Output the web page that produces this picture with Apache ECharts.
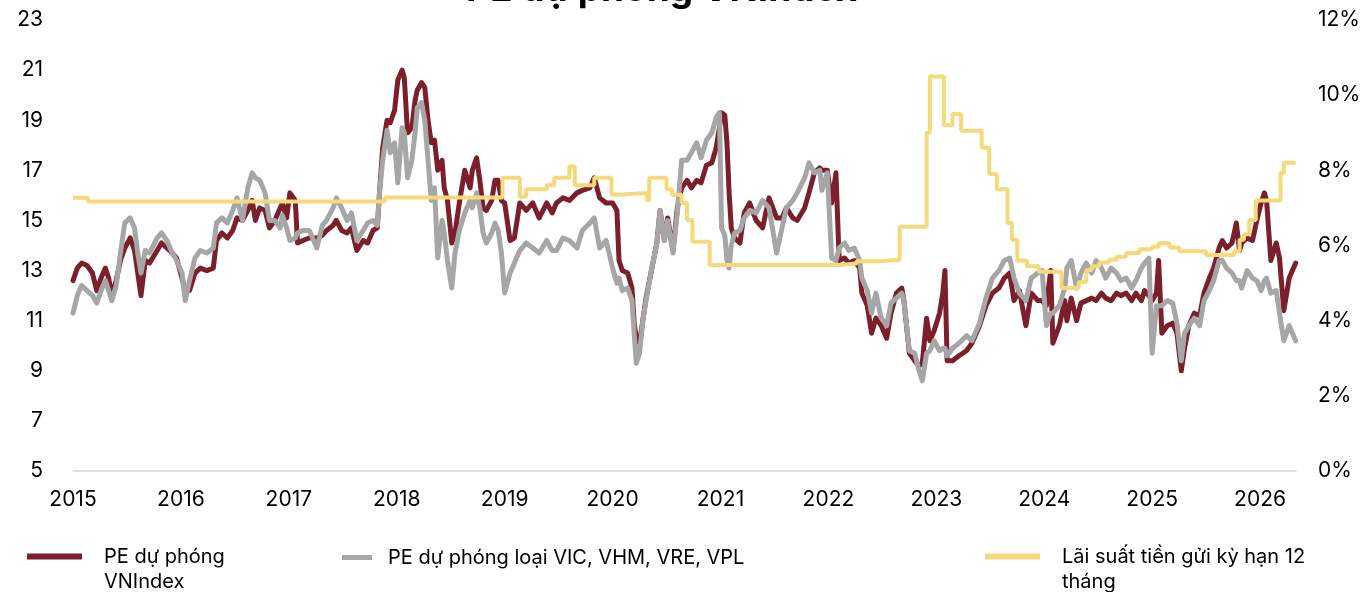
<!DOCTYPE html>
<html>
<head>
<meta charset="utf-8">
<title>PE dự phóng VNIndex</title>
<script src="https://cdn.jsdelivr.net/npm/echarts@6/dist/echarts.min.js"></script>
<style>
  html, body { margin: 0; padding: 0; background: #fff; }
  #chart { width: 1365px; height: 592px; }
</style>
</head>
<body>
<div id="chart"></div>
<script>
// ngày quan sát (năm thập phân), dùng chung cho 2 đường PE
const peDates = [
  2015.00, 2015.04, 2015.08, 2015.13, 2015.18, 2015.22, 2015.26, 2015.30, 2015.33, 2015.36, 2015.40, 2015.44, 2015.48, 2015.53, 2015.57, 2015.60, 2015.63, 2015.67, 2015.71, 2015.78, 2015.82, 2015.87, 2015.92, 2015.96,
  2016.01, 2016.04, 2016.08, 2016.13, 2016.18, 2016.24, 2016.30, 2016.33, 2016.38, 2016.43, 2016.48, 2016.52, 2016.57, 2016.62, 2016.66, 2016.69, 2016.73, 2016.78, 2016.82, 2016.87, 2016.92, 2016.94, 2016.98,
  2017.01, 2017.06, 2017.08, 2017.13, 2017.19, 2017.26, 2017.31, 2017.35, 2017.41, 2017.44, 2017.49, 2017.54, 2017.58, 2017.63, 2017.69, 2017.73, 2017.78, 2017.82, 2017.84, 2017.87, 2017.91, 2017.94, 2017.98,
  2018.01, 2018.05, 2018.07, 2018.10, 2018.14, 2018.17, 2018.19, 2018.23, 2018.26, 2018.29, 2018.32, 2018.35, 2018.38, 2018.42, 2018.44, 2018.47, 2018.51, 2018.54, 2018.58, 2018.63, 2018.68, 2018.70, 2018.74, 2018.77, 2018.80, 2018.83, 2018.88, 2018.91, 2018.94, 2018.97,
  2019.00, 2019.05, 2019.09, 2019.14, 2019.20, 2019.26, 2019.32, 2019.39, 2019.44, 2019.48, 2019.54, 2019.60, 2019.67, 2019.72, 2019.79, 2019.83, 2019.88, 2019.94,
  2020.00, 2020.04, 2020.06, 2020.09, 2020.14, 2020.18, 2020.20, 2020.22, 2020.25, 2020.28, 2020.31, 2020.36, 2020.41, 2020.44, 2020.48, 2020.51, 2020.56, 2020.60, 2020.64, 2020.69, 2020.73, 2020.78, 2020.82, 2020.87, 2020.92, 2020.96, 2020.99,
  2021.01, 2021.04, 2021.06, 2021.08, 2021.10, 2021.13, 2021.18, 2021.22, 2021.27, 2021.33, 2021.39, 2021.45, 2021.52, 2021.57, 2021.61, 2021.67, 2021.71, 2021.78, 2021.82, 2021.87, 2021.92, 2021.94, 2021.99,
  2022.03, 2022.07, 2022.10, 2022.15, 2022.19, 2022.24, 2022.29, 2022.31, 2022.36, 2022.40, 2022.44, 2022.49, 2022.54, 2022.58, 2022.63, 2022.68, 2022.70, 2022.75, 2022.80, 2022.84, 2022.87, 2022.91, 2022.94, 2022.98,
  2023.03, 2023.06, 2023.08, 2023.10, 2023.15, 2023.21, 2023.28, 2023.33, 2023.40, 2023.46, 2023.52, 2023.58, 2023.63, 2023.68, 2023.72, 2023.77, 2023.83, 2023.88, 2023.94, 2023.98,
  2024.02, 2024.06, 2024.08, 2024.14, 2024.19, 2024.21, 2024.25, 2024.30, 2024.34, 2024.39, 2024.44, 2024.48, 2024.53, 2024.57, 2024.62, 2024.67, 2024.71, 2024.76, 2024.81, 2024.85, 2024.90, 2024.93, 2024.97,
  2025.00, 2025.04, 2025.06, 2025.09, 2025.14, 2025.19, 2025.23, 2025.27, 2025.30, 2025.34, 2025.39, 2025.44, 2025.48, 2025.53, 2025.57, 2025.62, 2025.65, 2025.69, 2025.74, 2025.78, 2025.81, 2025.83, 2025.88, 2025.93, 2025.97,
  2026.01, 2026.04, 2026.06, 2026.10, 2026.15, 2026.18, 2026.22, 2026.27, 2026.33
];

// PE dự phóng VNIndex
const peVnindex = [
  12.6, 13.1, 13.3, 13.2, 12.9, 12.2, 12.7, 13.1, 12.7, 12.0, 12.6, 13.4, 13.9, 14.3, 13.8, 12.9, 12.0, 13.4, 13.3, 13.8, 14.1, 13.9, 13.7, 13.5,
  12.7, 12.2, 12.2, 12.9, 13.1, 13.0, 13.1, 14.2, 14.5, 14.3, 14.6, 15.1, 15.0, 15.4, 15.8, 15.0, 15.5, 15.4, 14.7, 15.0, 15.5, 15.7, 15.1,
  16.1, 15.8, 14.1, 14.2, 14.3, 14.3, 14.4, 14.6, 14.8, 15.0, 14.6, 14.5, 14.7, 13.8, 14.2, 14.1, 14.6, 14.7, 16.1, 17.9, 19.0, 18.9, 19.4,
  20.6, 21.0, 20.7, 18.5, 18.7, 19.8, 20.2, 20.5, 20.3, 19.0, 18.1, 18.2, 17.0, 17.4, 16.3, 15.8, 14.1, 14.5, 15.7, 17.0, 16.3, 17.0, 17.5, 16.6, 15.5, 15.4, 15.8, 16.6, 16.6, 15.8,
  15.7, 14.2, 14.3, 15.7, 15.4, 15.7, 15.1, 15.7, 15.3, 15.7, 15.9, 15.8, 16.1, 16.2, 16.3, 16.7, 15.9, 15.7,
  15.7, 15.4, 13.4, 13.0, 12.9, 12.3, 10.9, 10.3, 10.1, 11.0, 11.9, 13.0, 14.1, 15.4, 14.2, 15.1, 13.8, 15.5, 16.3, 16.6, 16.3, 16.6, 16.5, 17.2, 17.3, 17.9, 18.7,
  19.3, 19.2, 18.1, 16.1, 14.7, 14.3, 14.1, 15.3, 15.7, 15.0, 14.7, 15.9, 15.1, 15.1, 15.5, 15.1, 15.0, 15.5, 16.1, 16.9, 17.1, 17.0, 17.0,
  15.7, 16.9, 13.4, 13.5, 13.3, 13.4, 13.1, 12.1, 11.6, 10.5, 11.1, 10.8, 10.3, 11.3, 12.1, 12.3, 11.8, 9.7, 9.4, 9.2, 9.3, 11.1, 10.2, 10.6,
  11.3, 12.1, 13.0, 9.4, 9.4, 9.6, 9.8, 10.1, 10.8, 11.6, 12.1, 12.3, 12.7, 12.9, 11.8, 12.2, 10.8, 12.1, 11.8, 11.8,
  11.6, 13.0, 10.1, 10.8, 11.8, 11.0, 11.9, 11.0, 11.7, 11.8, 11.9, 11.8, 12.1, 11.9, 11.8, 12.1, 12.0, 12.1, 11.8, 12.1, 11.8, 12.2, 12.0,
  11.8, 12.1, 13.4, 10.5, 10.8, 10.9, 10.5, 9.0, 9.9, 10.8, 11.3, 11.2, 12.1, 12.7, 13.1, 13.9, 14.2, 13.9, 14.1, 14.9, 13.8, 14.1, 14.3, 14.2, 15.0,
  15.7, 16.1, 15.8, 13.4, 14.1, 13.5, 11.4, 12.7, 13.3
];

// PE dự phóng loại VIC, VHM, VRE, VPL
const peExVin = [
  11.3, 12.0, 12.4, 12.2, 12.0, 11.7, 12.2, 12.6, 12.2, 11.8, 12.4, 13.7, 14.9, 15.1, 14.7, 13.7, 12.9, 13.8, 13.7, 14.3, 14.5, 14.2, 13.7, 13.4,
  12.9, 11.8, 12.6, 13.5, 13.8, 13.7, 13.9, 14.9, 15.1, 14.9, 15.4, 15.9, 15.0, 16.3, 16.9, 16.7, 16.6, 16.1, 15.0, 15.0, 14.7, 15.2, 14.7,
  14.2, 14.3, 14.5, 14.6, 14.6, 13.9, 14.8, 15.0, 15.5, 15.9, 15.5, 15.0, 15.3, 14.2, 14.6, 14.9, 15.0, 14.8, 16.1, 17.4, 18.6, 17.7, 18.1,
  16.5, 18.7, 18.5, 16.7, 17.4, 18.5, 19.5, 19.7, 19.0, 17.4, 15.8, 16.3, 13.5, 15.0, 14.5, 13.4, 12.3, 13.7, 14.6, 15.3, 15.8, 15.5, 16.1, 15.5, 14.5, 14.1, 14.5, 14.9, 14.6, 13.7,
  12.1, 12.9, 13.3, 13.8, 14.1, 13.9, 13.7, 14.2, 13.8, 13.8, 14.3, 14.2, 13.9, 14.6, 14.9, 15.1, 13.9, 14.2,
  13.1, 12.5, 12.7, 12.2, 12.3, 11.8, 10.5, 9.3, 9.7, 11.0, 11.8, 13.0, 14.1, 15.4, 14.2, 15.0, 13.7, 15.3, 17.4, 17.4, 17.7, 18.1, 17.5, 18.2, 18.5, 19.1, 19.3,
  14.7, 14.4, 13.4, 13.1, 14.0, 14.5, 14.6, 15.1, 15.4, 15.3, 15.8, 15.5, 13.7, 14.7, 15.5, 15.8, 16.1, 16.7, 17.3, 16.9, 17.0, 16.2, 16.9,
  13.5, 13.4, 13.9, 14.1, 13.8, 13.9, 13.4, 12.7, 12.2, 11.3, 12.1, 11.1, 10.8, 11.7, 11.9, 12.1, 11.8, 9.8, 9.7, 9.0, 8.6, 9.7, 9.8, 10.2,
  9.8, 9.9, 9.9, 9.6, 9.9, 10.1, 10.4, 10.2, 10.9, 11.9, 12.7, 13.0, 13.4, 13.5, 12.7, 12.1, 11.8, 12.7, 12.9, 13.0,
  10.8, 11.3, 11.3, 11.6, 12.3, 13.1, 13.4, 12.3, 12.9, 13.3, 12.9, 13.4, 13.1, 12.7, 13.1, 12.9, 12.6, 12.7, 12.3, 12.6, 13.1, 13.3, 13.5,
  9.7, 11.6, 11.6, 11.6, 11.8, 11.7, 10.9, 9.4, 10.5, 10.8, 11.1, 10.8, 11.8, 12.2, 12.6, 13.4, 13.4, 13.1, 12.9, 12.6, 12.6, 12.3, 13.0, 12.7, 12.6,
  12.2, 12.6, 12.7, 12.1, 12.2, 11.3, 10.2, 10.8, 10.2
];

// Lãi suất tiền gửi kỳ hạn 12 tháng (%), mỗi mốc là ngày bắt đầu một mức
const rateDates = [
  2015.00, 2015.14, 2017.89, 2018.98, 2019.14, 2019.20, 2019.39, 2019.46, 2019.60, 2019.65,
  2019.83, 2019.99, 2020.05, 2020.32, 2020.34, 2020.50, 2020.55, 2020.64, 2020.69, 2020.74,
  2020.90, 2022.10, 2022.26, 2022.47, 2022.66, 2022.91, 2022.94, 2023.07, 2023.15, 2023.23,
  2023.42, 2023.49, 2023.56, 2023.66, 2023.70, 2023.75, 2023.84, 2023.95, 2024.16, 2024.32,
  2024.39, 2024.44, 2024.51, 2024.60, 2024.67, 2024.76, 2024.88, 2025.00, 2025.06, 2025.16,
  2025.25, 2025.50, 2025.76, 2025.81, 2025.85, 2025.90, 2025.96, 2026.19, 2026.22, 2026.33
];
const rateValues = [
  7.27, 7.17, 7.28, 7.8, 7.3, 7.5, 7.6, 7.8, 8.1, 7.6,
  7.8, 7.35, 7.4, 7.2, 7.8, 7.5, 7.35, 7.13, 6.68, 6.1,
  5.48, 5.52, 5.58, 5.62, 6.5, 9.0, 10.5, 9.2, 9.5, 9.05,
  8.6, 7.9, 7.5, 6.6, 6.15, 5.6, 5.45, 5.3, 4.87, 5.03,
  5.35, 5.45, 5.55, 5.62, 5.7, 5.8, 5.9, 5.97, 6.06, 5.95,
  5.85, 5.75, 5.85, 6.15, 6.3, 6.68, 7.2, 7.93, 8.2, 8.2
];

const yearTicks = [2015, 2016, 2017, 2018, 2019, 2020, 2021, 2022, 2023, 2024, 2025, 2026];
const leftTicks = [5, 7, 9, 11, 13, 15, 17, 19, 21, 23];
const rightTicks = [0, 2, 4, 6, 8, 10, 12];

const NAME_PE = 'PE dự phóng VNIndex';
const NAME_EX = 'PE dự phóng loại VIC, VHM, VRE, VPL';
const NAME_RATE = 'Lãi suất tiền gửi kỳ hạn 12 tháng';
// dòng trống đầu tiên để dòng chữ thứ nhất thẳng hàng với ký hiệu
const legendText = {
  [NAME_PE]: '\nPE dự phóng\nVNIndex',
  [NAME_EX]: NAME_EX,
  [NAME_RATE]: '\nLãi suất tiền gửi kỳ hạn 12\ntháng'
};

const FONT = 'Inter, "Noto Sans", sans-serif';
const RED = '#7b1f2c';
const GRAY = '#a6a6a6';
const YELLOW = '#f5d97b';

const toPairs = (xs, ys) => xs.map((x, i) => [x, ys[i]]);

function legendItem(name, left, top, width, height, padLeft) {
  return {
    data: [{ name: name, icon: 'rect' }],
    left: left,
    top: top,
    orient: 'horizontal',
    itemWidth: width,
    itemHeight: height,
    selectedMode: false,
    formatter: n => legendText[n],
    textStyle: {
      fontFamily: FONT,
      fontSize: 20,
      lineHeight: 25,
      color: '#000',
      padding: [0, 0, 0, padLeft]
    }
  };
}

const chart = echarts.init(document.getElementById('chart'));
const option = {
  animation: false,
  backgroundColor: '#fff',
  textStyle: { fontFamily: FONT },
  title: {
    text: 'PE dự phóng VNIndex',
    left: 461,
    top: -34,
    textStyle: { fontFamily: FONT, fontSize: 37, fontWeight: 'bold', color: '#000' }
  },
  grid: { left: 73, right: 69, top: 20, bottom: 121, containLabel: false },
  legend: [
    legendItem(NAME_PE, 22, 514, 55, 6, 17),
    legendItem(NAME_EX, 337, 540, 30, 5, 11),
    legendItem(NAME_RATE, 980, 514, 55, 6, 17)
  ],
  xAxis: {
    type: 'value',
    min: yearTicks[0],
    max: 2026.333,
    interval: 1,
    axisLine: { show: true, lineStyle: { color: '#d9d9d9', width: 1.5 } },
    axisTick: { show: false },
    splitLine: { show: false },
    axisLabel: {
      fontFamily: FONT,
      fontSize: 21,
      color: '#000',
      margin: 18,
      showMaxLabel: false,
      formatter: v => (yearTicks.indexOf(v) >= 0 ? String(v) : '')
    }
  },
  yAxis: [
    {
      type: 'value',
      min: leftTicks[0],
      max: leftTicks[leftTicks.length - 1],
      interval: 2,
      axisLine: { show: false },
      axisTick: { show: false },
      splitLine: { show: false },
      axisLabel: { fontFamily: FONT, fontSize: 21, color: '#000', margin: 30 }
    },
    {
      type: 'value',
      position: 'right',
      min: rightTicks[0],
      max: rightTicks[rightTicks.length - 1],
      interval: 2,
      axisLine: { show: false },
      axisTick: { show: false },
      splitLine: { show: false },
      axisLabel: { fontFamily: FONT, fontSize: 21, color: '#000', margin: 22, formatter: '{value}%' }
    }
  ],
  series: [
    {
      name: NAME_PE,
      type: 'line',
      data: toPairs(peDates, peVnindex),
      showSymbol: false,
      itemStyle: { color: RED },
      lineStyle: { color: RED, width: 5, join: 'round', cap: 'round' },
      z: 2
    },
    {
      name: NAME_EX,
      type: 'line',
      data: toPairs(peDates, peExVin),
      showSymbol: false,
      itemStyle: { color: GRAY },
      lineStyle: { color: GRAY, width: 5, join: 'round', cap: 'round' },
      z: 3
    },
    {
      name: NAME_RATE,
      type: 'line',
      yAxisIndex: 1,
      step: 'end',
      data: toPairs(rateDates, rateValues),
      showSymbol: false,
      itemStyle: { color: YELLOW },
      lineStyle: { color: YELLOW, width: 4 },
      z: 4
    }
  ]
};
chart.setOption(option);
</script>
</body>
</html>
